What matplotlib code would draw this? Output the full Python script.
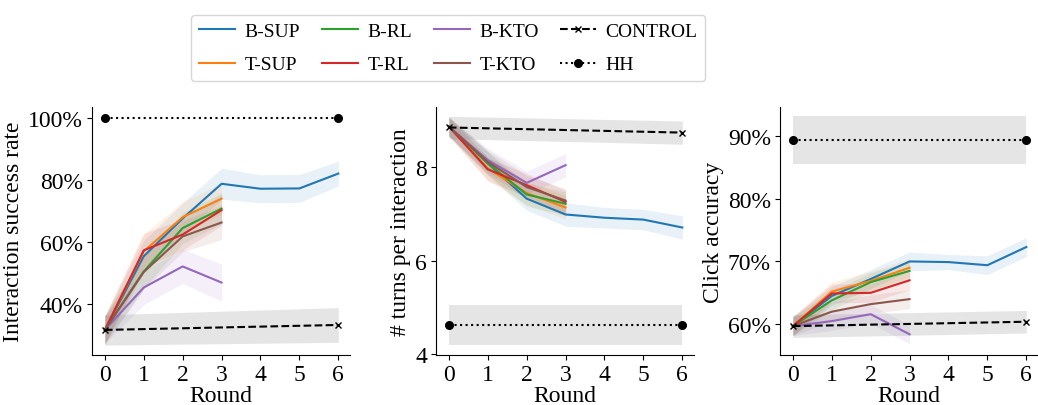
import numpy as np
import matplotlib
matplotlib.use("Agg")
import matplotlib.pyplot as plt
from matplotlib.ticker import FuncFormatter

plt.rcParams['font.family'] = ['Liberation Serif', 'DejaVu Serif']
plt.rcParams['font.size'] = 17

rounds_short = [0, 1, 2, 3]
rounds_long = [0, 1, 2, 3, 4, 5, 6]
rounds_ref = [0, 6]

names = ['B-SUP', 'T-SUP', 'B-RL', 'T-RL', 'B-KTO', 'T-KTO']
colors = ['tab:blue', 'tab:orange', 'tab:green', 'tab:red', 'tab:purple', 'tab:brown']

# --- success rate (%) ---
succ_mean = {
    'B-SUP': [31.6, 55.4, 67.6, 78.8, 77.2, 77.3, 82.1],
    'T-SUP': [31.6, 57.0, 68.0, 74.0],
    'B-RL':  [31.6, 50.5, 64.5, 70.8],
    'T-RL':  [31.6, 57.3, 62.4, 70.3],
    'B-KTO': [31.6, 45.3, 52.1, 46.9],
    'T-KTO': [31.6, 50.3, 61.8, 66.3],
}
succ_std = {
    'B-SUP': [4.5, 5.0, 5.0, 5.0, 4.5, 4.5, 4.0],
    'T-SUP': [4.5, 5.5, 5.0, 5.0],
    'B-RL':  [4.5, 5.5, 5.0, 5.0],
    'T-RL':  [4.5, 5.5, 5.0, 5.0],
    'B-KTO': [4.5, 5.5, 5.5, 6.0],
    'T-KTO': [4.5, 5.5, 5.0, 5.5],
}
succ_ctrl = [31.6, 33.2]
succ_ctrl_std = [4.9, 5.6]
succ_hh = [100.0, 100.0]
succ_hh_std = [0.0, 0.0]

# --- turns per interaction ---
turns_mean = {
    'B-SUP': [8.88, 8.09, 7.33, 6.99, 6.92, 6.88, 6.71],
    'T-SUP': [8.88, 7.98, 7.45, 7.14],
    'B-RL':  [8.88, 8.09, 7.42, 7.22],
    'T-RL':  [8.88, 7.96, 7.62, 7.26],
    'B-KTO': [8.88, 8.16, 7.67, 8.05],
    'T-KTO': [8.88, 8.12, 7.58, 7.29],
}
turns_std = {
    'B-SUP': [0.2, 0.25, 0.25, 0.25, 0.22, 0.22, 0.25],
    'T-SUP': [0.2, 0.25, 0.25, 0.25],
    'B-RL':  [0.2, 0.25, 0.25, 0.25],
    'T-RL':  [0.2, 0.25, 0.25, 0.25],
    'B-KTO': [0.2, 0.25, 0.25, 0.25],
    'T-KTO': [0.2, 0.25, 0.25, 0.25],
}
turns_ctrl = [8.86, 8.75]
turns_ctrl_std = [0.24, 0.25]
turns_hh = [4.62, 4.62]
turns_hh_std = [0.43, 0.43]

# --- click accuracy (%) ---
click_mean = {
    'B-SUP': [59.7, 64.5, 67.2, 70.0, 69.9, 69.4, 72.3],
    'T-SUP': [59.7, 65.2, 66.9, 69.0],
    'B-RL':  [59.7, 63.8, 66.7, 68.5],
    'T-RL':  [59.7, 64.9, 65.0, 67.0],
    'B-KTO': [59.7, 60.5, 61.6, 58.4],
    'T-KTO': [59.7, 62.0, 63.2, 64.0],
}
click_std = {
    'B-SUP': [1.5, 1.5, 1.5, 1.5, 1.2, 1.5, 1.5],
    'T-SUP': [1.5, 1.5, 1.5, 1.5],
    'B-RL':  [1.5, 1.5, 1.5, 1.5],
    'T-RL':  [1.5, 1.5, 1.5, 1.5],
    'B-KTO': [1.5, 1.5, 1.5, 1.5],
    'T-KTO': [1.5, 1.5, 1.5, 1.5],
}
click_ctrl = [59.7, 60.4]
click_ctrl_std = [1.8, 1.8]
click_hh = [89.4, 89.4]
click_hh_std = [3.8, 3.8]

panels = [
    (succ_mean, succ_std, succ_ctrl, succ_ctrl_std, succ_hh, succ_hh_std,
     'Interaction success rate', (23.5, 103.6), [40, 60, 80, 100], True),
    (turns_mean, turns_std, turns_ctrl, turns_ctrl_std, turns_hh, turns_hh_std,
     '# turns per interaction', (3.97, 9.3), [4, 6, 8], False),
    (click_mean, click_std, click_ctrl, click_ctrl_std, click_hh, click_hh_std,
     'Click accuracy', (55.1, 94.6), [60, 70, 80, 90], True),
]

fig = plt.figure(figsize=(10.38, 4.06), dpi=100)
lefts = [92, 436, 780]
handles = []
for i, (mean, std, ctrl, cstd, hh, hstd, ylab, ylim, yticks, pct) in enumerate(panels):
    ax = fig.add_axes([lefts[i] / 1038, 1 - 356 / 406, 258 / 1038, 248 / 406])
    for name, c in zip(names, colors):
        m = np.array(mean[name])
        s = np.array(std[name])
        x = rounds_long if len(m) == 7 else rounds_short
        ln, = ax.plot(x, m, color=c, lw=1.5, label=name)
        ax.fill_between(x, m - s, m + s, color=c, alpha=0.1, lw=0)
        if i == 0:
            handles.append(ln)
    ctrl = np.array(ctrl); cstd = np.array(cstd)
    hh = np.array(hh); hstd = np.array(hstd)
    lc, = ax.plot(rounds_ref, ctrl, color='black', ls='--', lw=1.5,
                  marker='x', ms=5, label='CONTROL')
    ax.fill_between(rounds_ref, ctrl - cstd, ctrl + cstd, color='gray', alpha=0.2, lw=0)
    lh, = ax.plot(rounds_ref, hh, color='black', ls=':', lw=1.5,
                  marker='o', ms=5.5, label='HH')
    ax.fill_between(rounds_ref, hh - hstd, hh + hstd, color='gray', alpha=0.2, lw=0)
    if i == 0:
        handles += [lc, lh]
    ax.set_xlim(-0.33, 6.3)
    ax.set_ylim(*ylim)
    ax.set_xticks(rounds_long)
    ax.set_yticks(yticks)
    if pct:
        ax.yaxis.set_major_formatter(FuncFormatter(lambda v, p: f'{v:.0f}%'))
    ax.set_xlabel('Round', fontsize=17, labelpad=0)
    ax.set_ylabel(ylab, fontsize=17, labelpad=3)
    ax.spines['top'].set_visible(False)
    ax.spines['right'].set_visible(False)
    ax.tick_params(labelsize=17, pad=3)

fig.legend(handles, names + ['CONTROL', 'HH'], loc='upper center', ncol=4,
           bbox_to_anchor=(0.432, 0.985), fontsize=14, frameon=True,
           columnspacing=1.1, handlelength=1.85, handletextpad=0.5,
           labelspacing=0.8)

fig.savefig('out.png', dpi=100)
